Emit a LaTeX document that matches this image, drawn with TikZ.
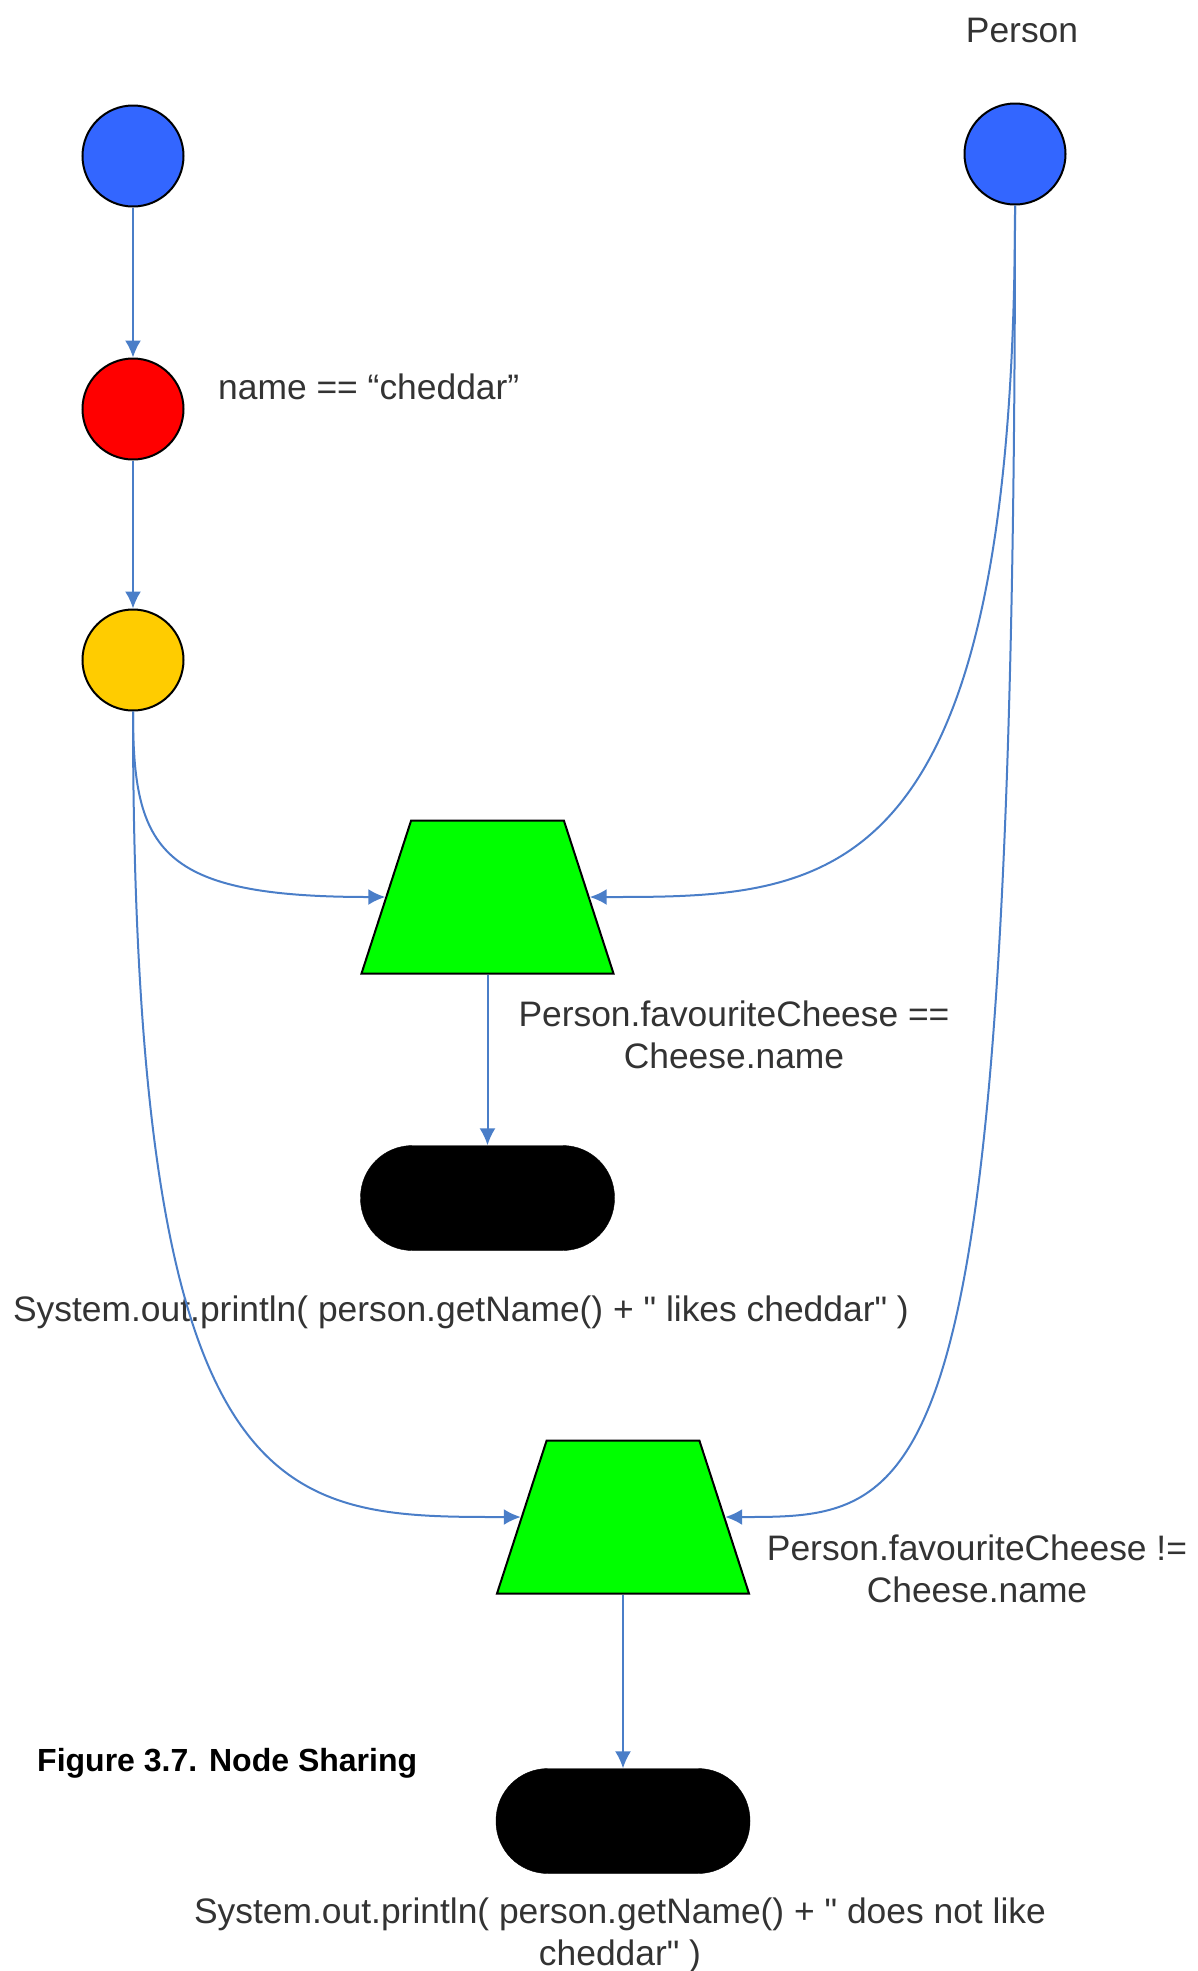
\documentclass[tikz,border=0pt]{standalone}
\usepackage{fontspec}
\setmainfont{Liberation Sans}[Ligatures=TeXOff]
\usetikzlibrary{shapes.geometric,arrows.meta}

\definecolor{typeblue}{HTML}{3366FF}
\definecolor{alphared}{HTML}{FF0000}
\definecolor{adapteryellow}{HTML}{FFCC00}
\definecolor{betagreen}{HTML}{00FF00}
\definecolor{linkblue}{HTML}{4A7EC8}
\definecolor{labelgray}{HTML}{333333}

\tikzset{
  alphanode/.style={circle, draw=black, line width=2pt, minimum size=101pt, inner sep=0pt},
  betanode/.style={trapezium, trapezium left angle=72, trapezium right angle=72,
    trapezium stretches=true, minimum width=252pt, minimum height=153pt,
    draw=black, fill=betagreen, line width=2pt, inner sep=2pt},
  termnode/.style={rectangle, rounded corners=52pt, minimum width=254pt,
    minimum height=105pt, draw=black, fill=black},
  nodelabel/.style={font=\fontsize{35.4pt}{42pt}\selectfont, text=labelgray,
    inner sep=0pt, align=center},
  link/.style={->, draw=linkblue, line width=2pt}
}

\begin{document}
\begin{tikzpicture}[x=1pt,y=-1pt,>={Latex[length=17pt,width=16pt]}]
    \useasboundingbox (0,0) rectangle (1198,1971);

    % object type nodes
    \node [alphanode, fill=typeblue] (cheese) at (133,156) {};
    \node [alphanode, fill=typeblue] (person) at (1015,154) {};
    \node [nodelabel, anchor=base] (personlbl) at (1022,42) {Person};

    % alpha nodes
    \node [alphanode, fill=alphared] (name) at (133,409) {};
    \node [nodelabel, anchor=base west] (namelbl) at (218,399) {name == “cheddar”};
    \node [alphanode, fill=adapteryellow] (adapter) at (133,660) {};

    % beta nodes and terminals
    \node [betanode] (likes) at (487.5,897) {};
    \node [nodelabel, anchor=base] (likeslbl) at (734,1068)
          {Person.favouriteCheese ==\\Cheese.name};
    \node [termnode] (likesout) at (487.5,1198) {};
    \node [nodelabel, anchor=base] (likesoutlbl) at (461,1321)
          {System.out.println( person.getName() + " likes cheddar" )};

    \node [betanode] (dislikes) at (623,1517) {};
    \node [nodelabel, anchor=base] (dislikeslbl) at (977,1602)
          {Person.favouriteCheese !=\\Cheese.name};
    \node [termnode] (dislikesout) at (623,1821) {};
    \node [nodelabel, anchor=base] (dislikesoutlbl) at (620,1965)
          {System.out.println( person.getName() + " does not like\\cheddar" )};

    \node [anchor=base west, inner sep=0pt, font=\fontsize{32pt}{38pt}\selectfont\bfseries]
          (caption) at (37,1771) {Figure 3.7. Node Sharing};

    % connections
    \draw [link] (cheese) -- (name);
    \draw [link] (name) -- (adapter);
    \draw [link] (adapter.south) .. controls +(0,139) and +(-226,0) .. (likes.left side);
    \draw [link] (person.south) .. controls +(0,691) and +(240,0) .. (likes.right side);
    \draw [link] (likes.bottom side) -- (likesout);
    \draw [link] (adapter.south) .. controls +(0,806) and +(-240,0) .. (dislikes.left side);
    \draw [link] (person.south) .. controls +(0,1311) and +(200,0) .. (dislikes.right side);
    \draw [link] (dislikes.bottom side) -- (dislikesout);
\end{tikzpicture}
\end{document}
